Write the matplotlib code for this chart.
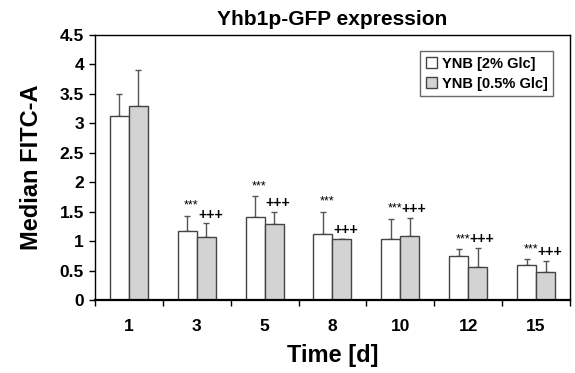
import numpy as np
import matplotlib
matplotlib.use("Agg")
import matplotlib.pyplot as plt

plt.rcParams['font.family'] = ['Liberation Sans', 'DejaVu Sans']
plt.rcParams['font.weight'] = 'bold'

# dados
days = ['1', '3', '5', '8', '10', '12', '15']
glc2 = [3.12, 1.17, 1.41, 1.12, 1.03, 0.74, 0.60]
glc2_err = [0.37, 0.26, 0.35, 0.38, 0.35, 0.12, 0.09]
glc05 = [3.30, 1.07, 1.29, 1.03, 1.08, 0.56, 0.48]
glc05_err = [0.60, 0.23, 0.21, 0.01, 0.31, 0.32, 0.18]
stars = ['', '***', '***', '***', '***', '***', '***']
plus = ['', '+++', '+++', '+++', '+++', '+++', '+++']
yticks = [0, 0.5, 1, 1.5, 2, 2.5, 3, 3.5, 4, 4.5]

fig = plt.figure(figsize=(5.75, 3.73), dpi=100)
ax = fig.add_axes([0.1652, 0.1957, 0.8261, 0.7105])

x = np.arange(len(days))
w = 0.28
ek = dict(ecolor='#555555', elinewidth=1.0, capsize=2.5, capthick=1.0)

ax.bar(x - w / 2, glc2, w, color='white', edgecolor='#444444', linewidth=1.0,
       label='YNB [2% Glc]', zorder=2)
ax.bar(x + w / 2, glc05, w, color='#d3d3d3', edgecolor='#444444', linewidth=1.0,
       label='YNB [0.5% Glc]', zorder=2)
# barras de erro so para cima
ax.errorbar(x - w / 2, glc2, yerr=[np.zeros(len(x)), glc2_err], fmt='none', zorder=1, **ek)
ax.errorbar(x + w / 2, glc05, yerr=[np.zeros(len(x)), glc05_err], fmt='none', zorder=1, **ek)

# marcas de significancia
for i in range(len(days)):
    if stars[i]:
        ax.text(x[i] - w / 2 + 0.06, glc2[i] + glc2_err[i] + 0.17, stars[i],
                ha='center', va='center', fontsize=9, fontweight='normal')
    if plus[i]:
        ax.text(x[i] + w / 2 + 0.06, glc05[i] + glc05_err[i] + 0.15, plus[i],
                ha='center', va='center', fontsize=10, fontweight='bold')

ax.set_xlim(-0.5, len(days) - 0.5)
ax.set_ylim(0, 4.5)
ax.set_yticks(yticks)
ax.set_yticklabels(['%g' % v for v in yticks])
ax.set_xticks(x)
ax.set_xticklabels(days)
ax.set_xticks(np.arange(len(days) + 1) - 0.5, minor=True)
ax.tick_params(axis='x', which='major', length=0, pad=14, labelsize=12.5)
ax.tick_params(axis='x', which='minor', length=4, width=1.0, direction='out')
ax.tick_params(axis='y', length=4, width=1.0, direction='out', pad=4, labelsize=12.5)

for s in ['top', 'right', 'left']:
    ax.spines[s].set_linewidth(1.0)
ax.spines['bottom'].set_linewidth(1.6)

ax.set_title('Yhb1p-GFP expression', fontsize=15, fontweight='bold', pad=7)
ax.set_ylabel('Median FITC-A', fontsize=17, fontweight='bold', labelpad=12)
ax.set_xlabel('Time [d]', fontsize=17, fontweight='bold', labelpad=7)

leg = ax.legend(loc='upper right', bbox_to_anchor=(0.965, 0.94), borderaxespad=0,
                fancybox=False, edgecolor='#444444', fontsize=10.5,
                handlelength=0.8, handleheight=0.8, handletextpad=0.3,
                labelspacing=0.4, borderpad=0.4)
leg.get_frame().set_linewidth(1.0)

plt.savefig('out.png', dpi=100)
